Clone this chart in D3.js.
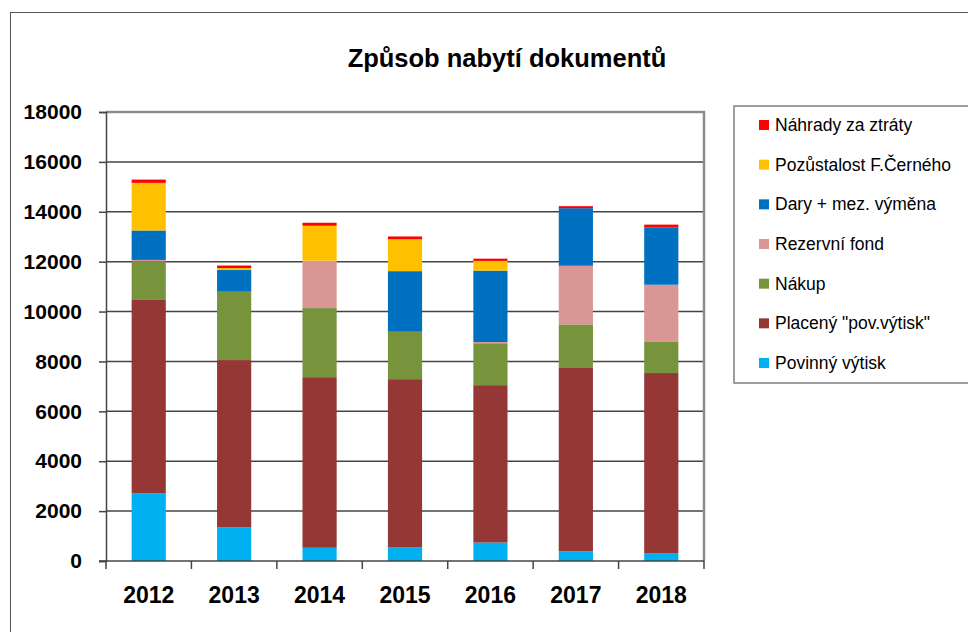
<!DOCTYPE html>
<html>
<head>
<meta charset="utf-8">
<script src="https://cdn.jsdelivr.net/npm/d3@7"></script>
<style>
  body { margin: 0; background: #fff; }
  text { font-family: "Liberation Sans", Arial, sans-serif; }
</style>
</head>
<body>
<div id="chart"></div>
<script>
// Data
let years = ["2012", "2013", "2014", "2015", "2016", "2017", "2018"];
let povinny = [2720, 1355, 530, 540, 740, 395, 315];
let placeny = [7770, 6700, 6840, 6750, 6310, 7370, 7220];
let nakup = [1530, 2740, 2770, 1900, 1680, 1720, 1270];
let rezervni = [50, 0, 1900, 0, 50, 2350, 2270];
let dary = [1180, 870, 0, 2430, 2860, 2310, 2290];
let pozustalost = [1910, 80, 1400, 1280, 390, 0, 0];
let nahrady = [130, 100, 120, 110, 90, 80, 120];
let yTicks = [0, 2000, 4000, 6000, 8000, 10000, 12000, 14000, 16000, 18000];

// Series (bottom to top)
let series = [
    { key: "povinny", name: "Povinný výtisk", values: povinny, color: "#00B0F0" },
    { key: "placeny", name: "Placený \"pov.výtisk\"", values: placeny, color: "#953735" },
    { key: "nakup", name: "Nákup", values: nakup, color: "#77933C" },
    { key: "rezervni", name: "Rezervní fond", values: rezervni, color: "#D99694" },
    { key: "dary", name: "Dary + mez. výměna", values: dary, color: "#0070C0" },
    { key: "pozustalost", name: "Pozůstalost F.Černého", values: pozustalost, color: "#FFC000" },
    { key: "nahrady", name: "Náhrady za ztráty", values: nahrady, color: "#FF0000" }
];

let table = years.map((y, i) => {
    let row = { year: y };
    series.forEach(s => row[s.key] = s.values[i]);
    return row;
});
let stacked = d3.stack().keys(series.map(s => s.key))(table);

let W = 968, H = 632;
let plot = { left: 106, right: 704, top: 112, bottom: 561 };

let svg = d3.select("#chart").append("svg")
    .attr("width", W)
    .attr("height", H);

// Outer chart frame
svg.append("rect")
    .attr("x", 10.5).attr("y", 12.5)
    .attr("width", W + 20).attr("height", H + 20)
    .attr("fill", "none")
    .attr("stroke", "#555")
    .attr("stroke-width", 1);

// Scales
let x = d3.scaleBand()
    .domain(years)
    .range([plot.left, plot.right])
    .padding(0);

let y = d3.scaleLinear()
    .domain([0, 18000])
    .range([plot.bottom, plot.top]);

// Gridlines
svg.append("g")
    .selectAll("line")
    .data(yTicks.filter(d => d > 0 && d < 18000))
    .enter()
    .append("line")
    .attr("x1", plot.left).attr("x2", plot.right)
    .attr("y1", d => y(d)).attr("y2", d => y(d))
    .attr("stroke", "#444")
    .attr("stroke-width", 1.5);

// Plot area border (top + right)
svg.append("path")
    .attr("d", `M${plot.left},${plot.top}H${plot.right}V${plot.bottom}`)
    .attr("fill", "none")
    .attr("stroke", "#8c8c8c")
    .attr("stroke-width", 2.5);

// Bars
let barW = x.bandwidth() * 0.4;
svg.append("g")
    .selectAll("g")
    .data(stacked)
    .enter()
    .append("g")
    .attr("fill", (d, i) => series[i].color)
    .selectAll("rect")
    .data(d => d)
    .enter()
    .append("rect")
    .attr("x", d => x(d.data.year) + (x.bandwidth() - barW) / 2)
    .attr("y", d => y(d[1]))
    .attr("width", barW)
    .attr("height", d => y(d[0]) - y(d[1]));

// Y axis
let yAxis = svg.append("g")
    .attr("transform", `translate(${plot.left},0)`)
    .call(d3.axisLeft(y).tickValues(yTicks).tickSize(7).tickPadding(17).tickFormat(d3.format("d")));
yAxis.select(".domain").attr("stroke", "#444").attr("stroke-width", 1.5);
yAxis.selectAll(".tick line").attr("stroke", "#444").attr("stroke-width", 1.5);
yAxis.selectAll("text")
    .style("font-size", "21px")
    .style("font-weight", "bold")
    .attr("fill", "#000");

// X axis (ticks at category boundaries)
let xAxis = svg.append("g")
    .attr("transform", `translate(0,${plot.bottom})`);
xAxis.append("line")
    .attr("x1", plot.left - 7).attr("x2", plot.right)
    .attr("stroke", "#444").attr("stroke-width", 1.5);
xAxis.selectAll(".tk")
    .data(years.concat(["end"]))
    .enter()
    .append("line")
    .attr("class", "tk")
    .attr("x1", d => d === "end" ? plot.right : x(d))
    .attr("x2", d => d === "end" ? plot.right : x(d))
    .attr("y1", 0).attr("y2", 8)
    .attr("stroke", "#444").attr("stroke-width", 1.5);
xAxis.selectAll(".lbl")
    .data(years)
    .enter()
    .append("text")
    .attr("class", "lbl")
    .attr("x", d => x(d) + x.bandwidth() / 2)
    .attr("y", 42)
    .attr("text-anchor", "middle")
    .style("font-size", "23px")
    .style("font-weight", "bold")
    .attr("fill", "#000")
    .text(d => d);

// Title
svg.append("text")
    .attr("x", 507)
    .attr("y", 67)
    .attr("text-anchor", "middle")
    .style("font-size", "25.5px")
    .style("font-weight", "bold")
    .attr("fill", "#000")
    .text("Způsob nabytí dokumentů");

// Legend
let legend = svg.append("g");
legend.append("rect")
    .attr("x", 734).attr("y", 106)
    .attr("width", 260).attr("height", 277)
    .attr("fill", "#fff")
    .attr("stroke", "#7f7f7f")
    .attr("stroke-width", 1.5);

let legendItems = series.slice().reverse();
let ly = d3.scalePoint()
    .domain(legendItems.map(d => d.key))
    .range([125, 363]);

let li = legend.selectAll(".li")
    .data(legendItems)
    .enter()
    .append("g")
    .attr("class", "li")
    .attr("transform", d => `translate(759,${ly(d.key)})`);
li.append("rect")
    .attr("x", 0).attr("y", -5)
    .attr("width", 10).attr("height", 10)
    .attr("fill", d => d.color);
li.append("text")
    .attr("x", 16)
    .attr("y", 6)
    .style("font-size", "17.5px")
    .attr("fill", "#000")
    .text(d => d.name);
</script>
</body>
</html>
